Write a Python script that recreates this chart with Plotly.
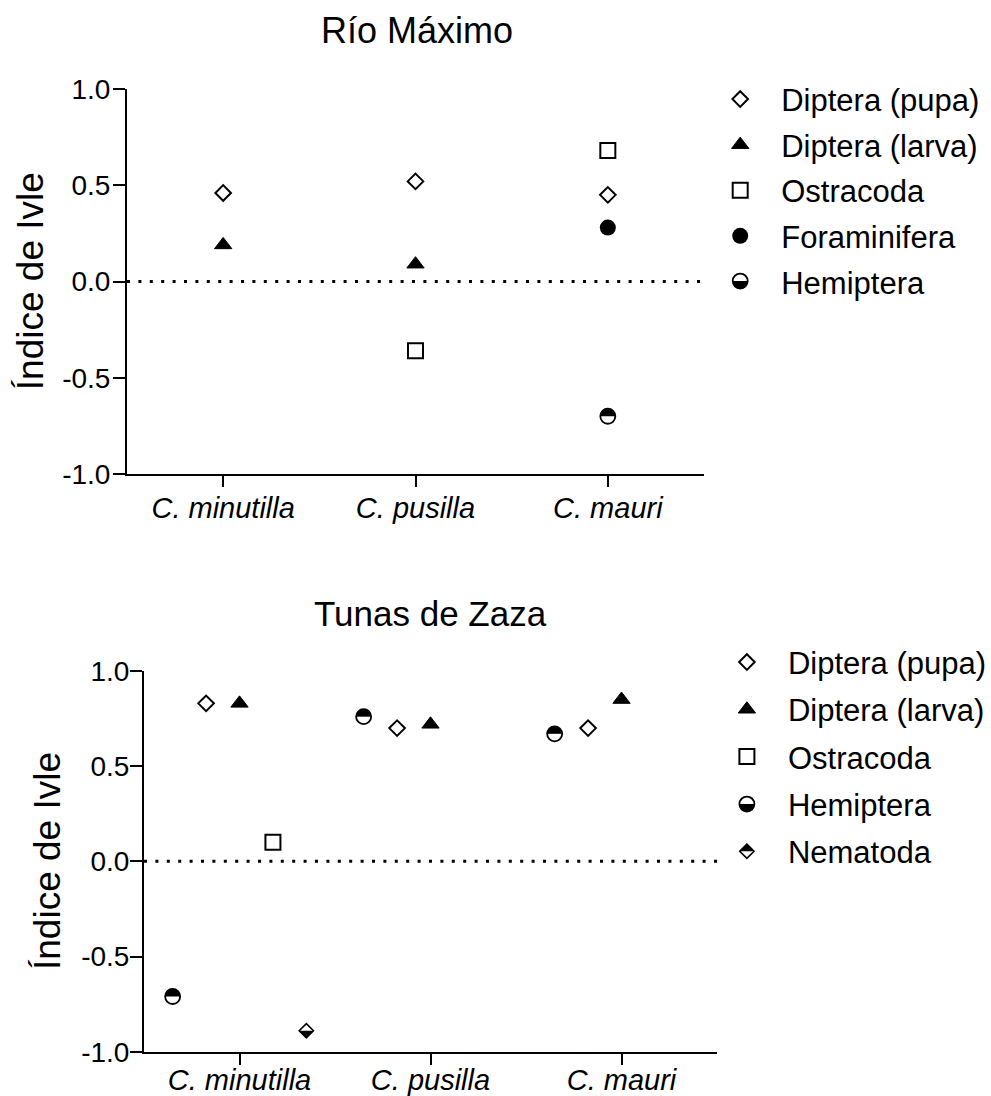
import plotly.graph_objects as go

# ---------------- data ----------------
categories = ["C. minutilla", "C. pusilla", "C. mauri"]
y_tick_vals = [-1.0, -0.5, 0.0, 0.5, 1.0]
y_tick_text = ["-1.0", "-0.5", "0.0", "0.5", "1.0"]

# Río Máximo (no dodging)
rio_series = ["Diptera (pupa)", "Diptera (larva)", "Ostracoda", "Foraminifera", "Hemiptera"]
rio_pupa = [0.46, 0.52, 0.45]
rio_larva = [0.19, 0.09, None]
rio_ostracoda = [None, -0.36, 0.68]
rio_foraminifera = [None, None, 0.28]
rio_hemiptera = [None, None, -0.70]

# Tunas de Zaza (dodged within each category)
tz_series = ["Diptera (pupa)", "Diptera (larva)", "Ostracoda", "Hemiptera", "Nematoda"]
tz_pupa = [0.83, 0.70, 0.70]
tz_larva = [0.83, 0.72, 0.85]
tz_ostracoda = [0.10, None, None]
tz_hemiptera = [-0.71, 0.76, 0.67]
tz_nematoda = [-0.89, None, None]
tz_dodge_order = ["Hemiptera", "Diptera (pupa)", "Diptera (larva)", "Ostracoda", "Nematoda"]

# ---------------- styles ----------------
FONT = "Liberation Sans, Arial, sans-serif"
W, H = 991, 1096
DODGE_STEP = 0.175
LEG_FONT = 31
ITEMW = 72


def marker_layers(name):
    """Return list of marker dicts drawn on top of each other for one series."""
    if name == "Diptera (pupa)":
        return [dict(symbol="diamond-open", size=12, color="black", line=dict(width=2, color="black"))]
    if name == "Diptera (larva)":
        return [dict(symbol="triangle-up", size=15, color="black", line=dict(width=1, color="black"))]
    if name == "Ostracoda":
        return [dict(symbol="square-open", size=15, color="black", line=dict(width=2, color="black"))]
    if name == "Foraminifera":
        return [dict(symbol="circle", size=16, color="black", line=dict(width=0))]
    if name == "Hemiptera":  # upper half black circle
        return [dict(symbol="circle", size=15, color="black", line=dict(width=0)),
                dict(symbol="square", size=16, color="white", line=dict(width=0), angle=0, standoff=8),
                dict(symbol="circle-open", size=15, color="black", line=dict(width=1.8, color="black"))]
    if name == "Nematoda":  # lower half black diamond
        return [dict(symbol="diamond", size=11, color="black", line=dict(width=0)),
                dict(symbol="square", size=16, color="white", line=dict(width=0), angle=180, standoff=8),
                dict(symbol="diamond-open", size=11, color="black", line=dict(width=1.6, color="black"))]


fig = go.Figure()


def add_panel(series, values, xaxis, yaxis, legends, dodge, tag):
    for name, vals in zip(series, values):
        if dodge:
            off = (tz_dodge_order.index(name) - 2) * DODGE_STEP
        else:
            off = 0.0
        xs = [i + off for i in range(len(categories))]
        for li, mk in enumerate(marker_layers(name)):
            fig.add_trace(go.Scatter(
                x=xs, y=vals, mode="markers", name=name, marker=mk,
                xaxis=xaxis, yaxis=yaxis, cliponaxis=False,
                legend=legends[li], legendgroup=f"{tag}-{name}-{li}",
                showlegend=True, hoverinfo="skip" if li else "x+y+name",
            ))


add_panel(rio_series, [rio_pupa, rio_larva, rio_ostracoda, rio_foraminifera, rio_hemiptera],
          "x", "y", ["legend", "legend2", "legend3"], False, "rio")
add_panel(tz_series, [tz_pupa, tz_larva, tz_ostracoda, tz_hemiptera, tz_nematoda],
          "x2", "y2", ["legend4", "legend5", "legend6"], True, "tz")


def xaxis_cfg(domain, anchor, standoff):
    return dict(domain=domain, anchor=anchor, range=[-0.5, 2.5], tickmode="array",
                tickvals=list(range(len(categories))), ticktext=categories,
                ticks="outside", ticklen=11, tickwidth=2, tickcolor="black",
                showline=True, linewidth=2, linecolor="black", showgrid=False, zeroline=False,
                tickfont=dict(family=FONT, size=29, color="black", style="italic"),
                ticklabelstandoff=standoff, fixedrange=True)


def yaxis_cfg(domain, anchor, standoff):
    return dict(domain=domain, anchor=anchor, range=[-1, 1], tickmode="array",
                tickvals=y_tick_vals, ticktext=y_tick_text,
                ticks="outside", ticklen=12, tickwidth=2, tickcolor="black",
                showline=True, linewidth=2, linecolor="black", showgrid=False, zeroline=False,
                tickfont=dict(family=FONT, size=28, color="black"),
                ticklabelstandoff=standoff, fixedrange=True)


def legend_cfg(x_px, bottom_px, gap, visible_text=True):
    return dict(x=x_px / W, xanchor="left", y=1 - bottom_px / H, yanchor="bottom",
                bgcolor="rgba(0,0,0,0)", borderwidth=0, itemwidth=ITEMW,
                traceorder="grouped", tracegroupgap=gap,
                font=dict(family=FONT, size=LEG_FONT,
                          color="black" if visible_text else "rgba(0,0,0,0)"),
                itemclick=False, itemdoubleclick=False)


fig.update_layout(
    width=W, height=H, paper_bgcolor="white", plot_bgcolor="white",
    margin=dict(l=0, r=0, t=0, b=0, autoexpand=False),
    font=dict(family=FONT, color="black"),
    xaxis=xaxis_cfg([127 / W, 704 / W], "y", -4),
    yaxis=yaxis_cfg([1 - 474 / H, 1 - 89 / H], "x", -3),
    xaxis2=xaxis_cfg([144 / W, 717 / W], "y2", -10),
    yaxis2=yaxis_cfg([1 - 1051.7 / H, 1 - 671 / H], "x2", -5),
    legend=legend_cfg(699.2, 308.4, 2.3),
    legend2=legend_cfg(699.2, 308.4, 2.3, False),
    legend3=legend_cfg(699.2, 308.4, 2.3, False),
    legend4=legend_cfg(705.9, 878.4, 3.9),
    legend5=legend_cfg(705.9, 878.4, 3.9, False),
    legend6=legend_cfg(705.9, 878.4, 3.9, False),
    shapes=[
        dict(type="line", xref="x domain", yref="y", x0=0, x1=1, y0=0, y1=0, layer="below",
             line=dict(color="black", width=3, dash="3px,8.4px")),
        dict(type="line", xref="x2 domain", yref="y2", x0=0, x1=1, y0=0, y1=0, layer="below",
             line=dict(color="black", width=3, dash="3px,8.4px")),
    ],
    annotations=[
        dict(text="Río Máximo", x=416.7 / W, y=1 - 30.2 / H, xref="paper", yref="paper",
             showarrow=False, xanchor="center", yanchor="middle", font=dict(size=36)),
        dict(text="Tunas de Zaza", x=430.5 / W, y=1 - 613.9 / H, xref="paper", yref="paper",
             showarrow=False, xanchor="center", yanchor="middle", font=dict(size=35)),
        dict(text="Índice de Ivle", x=30.5 / W, y=1 - 281.7 / H, xref="paper", yref="paper",
             showarrow=False, xanchor="center", yanchor="middle", textangle=-90, font=dict(size=37)),
        dict(text="Índice de Ivle", x=48.2 / W, y=1 - 860.8 / H, xref="paper", yref="paper",
             showarrow=False, xanchor="center", yanchor="middle", textangle=-90, font=dict(size=37)),
    ],
)

# remove the browser's default 8px body margin so the figure fills the window exactly
fig.write_html("out.html", config={"displayModeBar": False},
               post_script="document.body.style.margin='0';document.body.style.overflow='hidden';")
